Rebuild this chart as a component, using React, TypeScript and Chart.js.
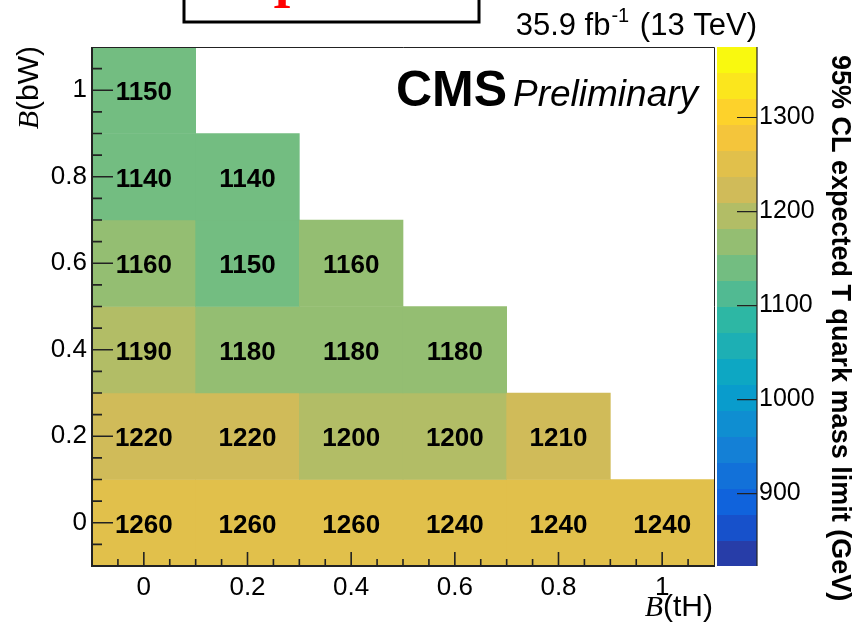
import React, { useEffect, useRef } from "react";
import { Chart, registerables } from "chart.js";

Chart.register(...registerables);

// ---- data -------------------------------------------------------------
// Bin centres of B(tH) and B(bW)
const X_CENTRES = [0, 0.2, 0.4, 0.6, 0.8, 1];
const Y_CENTRES = [0, 0.2, 0.4, 0.6, 0.8, 1];

// Expected 95% CL T quark mass limits (GeV), one array per B(bW) row
const LIMITS_BW_0 = [1260, 1260, 1260, 1240, 1240, 1240];
const LIMITS_BW_02 = [1220, 1220, 1200, 1200, 1210];
const LIMITS_BW_04 = [1190, 1180, 1180, 1180];
const LIMITS_BW_06 = [1160, 1150, 1160];
const LIMITS_BW_08 = [1140, 1140];
const LIMITS_BW_1 = [1150];
const LIMIT_ROWS = [LIMITS_BW_0, LIMITS_BW_02, LIMITS_BW_04, LIMITS_BW_06, LIMITS_BW_08, LIMITS_BW_1];

// Axis ticks
const X_TICKS = [0, 0.2, 0.4, 0.6, 0.8, 1];
const Y_TICKS = [0, 0.2, 0.4, 0.6, 0.8, 1];
const Z_TICKS = [900, 1000, 1100, 1200, 1300];
const X_RANGE = [-0.1, 1.1];
const Y_RANGE = [-0.1, 1.1];
const Z_RANGE = [823, 1375];
const N_CONTOURS = 20;

// ---- palette (ROOT kBird) --------------------------------------------
const BIRD_STOPS = [0, 0.125, 0.25, 0.375, 0.5, 0.625, 0.75, 0.875, 1];
const BIRD_R = [0.2082, 0.0592, 0.078, 0.0232, 0.1802, 0.5301, 0.8186, 0.9956, 0.9764];
const BIRD_G = [0.1664, 0.3599, 0.5041, 0.6419, 0.7178, 0.7492, 0.7328, 0.7862, 0.9832];
const BIRD_B = [0.5293, 0.8684, 0.8385, 0.7914, 0.6425, 0.4662, 0.3499, 0.1968, 0.0539];

function birdColor(f: number): string {
  let k = 0;
  while (k < BIRD_STOPS.length - 2 && f > BIRD_STOPS[k + 1]) k++;
  const t = (f - BIRD_STOPS[k]) / (BIRD_STOPS[k + 1] - BIRD_STOPS[k]);
  const c = (a: number[]) => Math.round(255 * (a[k] + t * (a[k + 1] - a[k])));
  return `rgb(${c(BIRD_R)},${c(BIRD_G)},${c(BIRD_B)})`;
}

function bandColor(i: number): string {
  const idx = Math.floor(((i + 0.99) * 255) / N_CONTOURS);
  return birdColor(idx / 255);
}

function contourIndex(v: number): number {
  const [lo, hi] = Z_RANGE;
  return Math.min(N_CONTOURS - 1, Math.max(0, Math.floor(((v - lo) / (hi - lo)) * N_CONTOURS)));
}

const HALF_Y = (Y_CENTRES[1] - Y_CENTRES[0]) / 2;

type Cell = { x: number; yc: number; y: [number, number]; v: number };
const CELLS: Cell[] = LIMIT_ROWS.flatMap((row, r) =>
  row.map((v, c) => ({
    x: X_CENTRES[c],
    yc: Y_CENTRES[r],
    y: [Y_CENTRES[r] - HALF_Y, Y_CENTRES[r] + HALF_Y] as [number, number],
    v,
  }))
);

const SANS = '"Liberation Sans", Arial, Helvetica, sans-serif';
const SERIF = '"Liberation Serif", "Times New Roman", serif';

// Frame, ticks, colour bar and all the ROOT-style annotations
const rootDecor = {
  id: "rootDecor",
  afterDatasetsDraw(chart: any) {
    const { ctx, chartArea: a, scales } = chart;
    const xs = scales.x;
    const ys = scales.y;
    const zs = scales.z;
    ctx.save();

    // bin contents
    ctx.font = `bold 26px ${SANS}`;
    ctx.fillStyle = "#000";
    ctx.textAlign = "center";
    ctx.textBaseline = "middle";
    CELLS.forEach((c) => {
      ctx.fillText(String(c.v), xs.getPixelForValue(c.x), ys.getPixelForValue(c.yc) + 3);
    });

    // frame
    ctx.strokeStyle = "#222";
    ctx.lineWidth = 1;
    ctx.beginPath();
    ctx.moveTo(a.left, a.top + 0.5);
    ctx.lineTo(a.right + 0.5, a.top + 0.5);
    ctx.lineTo(a.right + 0.5, a.bottom);
    ctx.stroke();
    ctx.lineWidth = 2;
    ctx.beginPath();
    ctx.moveTo(a.left, a.top);
    ctx.lineTo(a.left, a.bottom);
    ctx.lineTo(a.right + 1, a.bottom);
    ctx.stroke();

    // ticks
    ctx.lineWidth = 1.6;
    ctx.strokeStyle = "#222";
    const minorStep = 0.05;
    ctx.beginPath();
    for (let v = X_RANGE[0]; v <= X_RANGE[1] + 1e-9; v += minorStep) {
      const r = Math.round(v * 100) / 100;
      if (r <= X_RANGE[0] + 1e-9 || r >= X_RANGE[1] - 1e-9) continue;
      const major = X_TICKS.some((t) => Math.abs(t - r) < 1e-6);
      const px = xs.getPixelForValue(r);
      ctx.moveTo(px, a.bottom);
      ctx.lineTo(px, a.bottom - (major ? 14 : 7));
    }
    for (let v = Y_RANGE[0]; v <= Y_RANGE[1] + 1e-9; v += minorStep) {
      const r = Math.round(v * 100) / 100;
      if (r <= Y_RANGE[0] + 1e-9 || r >= Y_RANGE[1] - 1e-9) continue;
      const major = Y_TICKS.some((t) => Math.abs(t - r) < 1e-6);
      const py = ys.getPixelForValue(r);
      ctx.moveTo(a.left, py);
      ctx.lineTo(a.left + (major ? 21 : 10), py);
    }
    ctx.stroke();

    // colour bar
    const barL = a.right + 3;
    const barR = a.right + 43;
    const [zlo, zhi] = Z_RANGE;
    const w = (zhi - zlo) / N_CONTOURS;
    for (let i = 0; i < N_CONTOURS; i++) {
      const y0 = zs.getPixelForValue(zlo + i * w);
      const y1 = zs.getPixelForValue(zlo + (i + 1) * w);
      ctx.fillStyle = bandColor(i);
      ctx.fillRect(barL, Math.floor(y1), barR - barL, Math.ceil(y0) - Math.floor(y1));
    }
    ctx.strokeStyle = "#222";
    ctx.lineWidth = 1.2;
    ctx.beginPath();
    ctx.moveTo(barR, zs.top);
    ctx.lineTo(barR, zs.bottom);
    Z_TICKS.forEach((t) => {
      const py = zs.getPixelForValue(t);
      ctx.moveTo(barR, py);
      ctx.lineTo(barR - 20, py);
    });
    ctx.stroke();

    ctx.fillStyle = "#000";

    // colour bar title
    ctx.save();
    ctx.translate(832, 55);
    ctx.rotate(Math.PI / 2);
    ctx.font = `bold 27px ${SANS}`;
    ctx.textAlign = "left";
    ctx.textBaseline = "alphabetic";
    ctx.fillText("95% CL expected T quark mass limit (GeV)", 0, 0);
    ctx.restore();

    // x-axis title: B(tH)
    ctx.font = `30px ${SANS}`;
    ctx.textBaseline = "alphabetic";
    ctx.textAlign = "right";
    const xTail = "(tH)";
    ctx.fillText(xTail, 713, 616);
    const xTailW = ctx.measureText(xTail).width;
    ctx.font = `italic 30px ${SERIF}`;
    ctx.fillText("B", 713 - xTailW, 616);

    // y-axis title: B(bW)
    ctx.save();
    ctx.translate(38, 46);
    ctx.rotate(-Math.PI / 2);
    ctx.font = `30px ${SANS}`;
    ctx.textAlign = "right";
    const yTail = "(bW)";
    ctx.fillText(yTail, 0, 0);
    const yTailW = ctx.measureText(yTail).width;
    ctx.font = `italic 30px ${SERIF}`;
    ctx.fillText("B", -yTailW, 0);
    ctx.restore();

    // CMS Preliminary
    ctx.textAlign = "left";
    ctx.font = `bold 50px ${SANS}`;
    ctx.fillText("CMS", 396, 106);
    ctx.font = `italic 37px ${SANS}`;
    ctx.fillText("Preliminary", 513, 106);

    // luminosity label, right-aligned above the colour bar
    const lumiA = "35.9 fb";
    const lumiSup = "-1";
    const lumiB = " (13 TeV)";
    ctx.font = `31px ${SANS}`;
    const wA = ctx.measureText(lumiA).width;
    const wB = ctx.measureText(lumiB).width;
    ctx.font = `20px ${SANS}`;
    const wS = ctx.measureText(lumiSup).width + 3;
    const lx = 757 - (wA + wS + wB);
    ctx.textAlign = "left";
    ctx.fillText(lumiSup, lx + wA + 1, 22);
    ctx.font = `31px ${SANS}`;
    ctx.fillText(lumiA, lx, 35);
    ctx.fillText(lumiB, lx + wA + wS, 35);

    // header box at the top
    ctx.strokeStyle = "#000";
    ctx.lineWidth = 3;
    ctx.strokeRect(184, -20, 295, 42);
    ctx.fillStyle = "#ff0000";
    ctx.font = `bold 48px ${SERIF}`;
    ctx.textAlign = "center";
    ctx.fillText("I", 282, 8);

    ctx.restore();
  },
};

// drop the label overhang Chart.js reserves around each axis
function noOverhang(s: any) {
  s.paddingTop = 0;
  s.paddingBottom = 0;
  s.paddingLeft = 0;
  s.paddingRight = 0;
}

export default function App() {
  const canvasRef = useRef<HTMLCanvasElement | null>(null);

  useEffect(() => {
    const canvas = canvasRef.current;
    if (!canvas) return;
    const tickFont = { family: SANS, size: 26 };
    const chart = new Chart(canvas, {
      type: "bar",
      data: {
        datasets: [
          {
            data: CELLS.map((c) => ({ x: c.x, y: c.y })) as any,
            backgroundColor: CELLS.map((c) => bandColor(contourIndex(c.v))),
            borderWidth: 0,
            barPercentage: 1,
            categoryPercentage: 1,
            xAxisID: "x",
            yAxisID: "y",
          },
        ],
      },
      plugins: [rootDecor],
      options: {
        animation: false,
        responsive: false,
        devicePixelRatio: 1,
        events: [],
        layout: { padding: { top: 47, left: 0, right: 0, bottom: 0 } },
        plugins: { legend: { display: false }, tooltip: { enabled: false } },
        scales: {
          x: {
            type: "linear",
            position: "bottom",
            min: X_RANGE[0],
            max: X_RANGE[1],
            offset: false,
            grid: { display: false, drawTicks: false },
            border: { display: false },
            afterBuildTicks: (s: any) => {
              s.ticks = X_TICKS.map((v) => ({ value: v }));
            },
            afterFit: (s: any) => {
              s.height = 58;
              noOverhang(s);
            },
            ticks: {
              color: "#000",
              font: tickFont,
              padding: 6,
              autoSkip: false,
              maxRotation: 0,
              callback: (v: any) => String(v),
            },
          },
          y: {
            type: "linear",
            position: "left",
            min: Y_RANGE[0],
            max: Y_RANGE[1],
            grid: { display: false, drawTicks: false },
            border: { display: false },
            afterBuildTicks: (s: any) => {
              s.ticks = Y_TICKS.map((v) => ({ value: v }));
            },
            afterFit: (s: any) => {
              s.width = 92;
              noOverhang(s);
            },
            ticks: {
              color: "#000",
              font: tickFont,
              padding: 5,
              autoSkip: false,
              callback: (v: any) => String(v),
            },
          },
          z: {
            type: "linear",
            axis: "y",
            position: "right",
            min: Z_RANGE[0],
            max: Z_RANGE[1],
            grid: { display: false, drawTicks: false },
            border: { display: false },
            afterBuildTicks: (s: any) => {
              s.ticks = Z_TICKS.map((v) => ({ value: v }));
            },
            afterFit: (s: any) => {
              s.width = 144;
              noOverhang(s);
            },
            ticks: {
              color: "#000",
              font: { family: SANS, size: 25 },
              padding: 45,
              autoSkip: false,
              callback: (v: any) => String(v),
            },
          },
        },
      } as any,
    });
    return () => chart.destroy();
  }, []);

  return (
    <div style={{ position: "fixed", left: 0, top: 0, width: 858, height: 624, background: "#fff" }}>
      <canvas ref={canvasRef} width={858} height={624} style={{ display: "block" }} />
    </div>
  );
}
